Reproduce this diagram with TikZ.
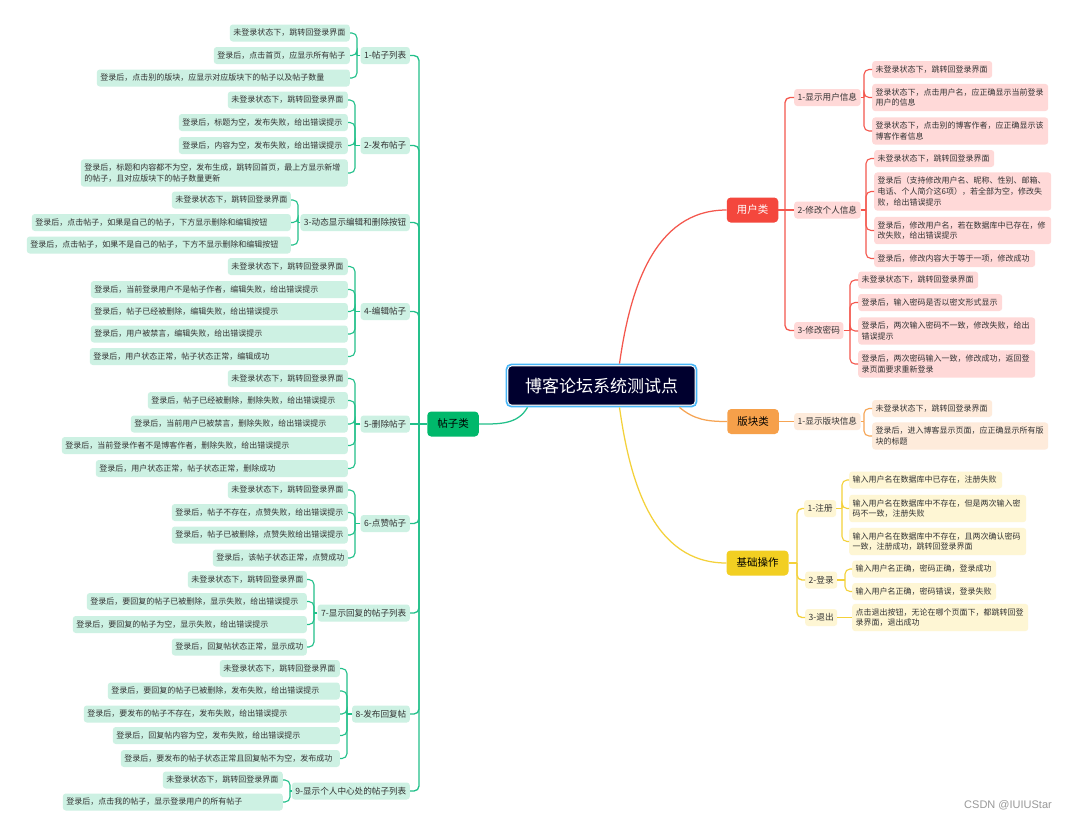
\documentclass[tikz,border=0pt]{standalone}
\usepackage{fontspec}
\setmainfont{Noto Sans CJK SC}
\newfontfamily\markfont{Liberation Sans}
\usepackage{tikz}
\usetikzlibrary{positioning}
\definecolor{ink}{HTML}{333333}
\definecolor{mint}{HTML}{22C08A}
\definecolor{mintfill}{HTML}{CDF1E3}
\definecolor{grass}{HTML}{00B86B}
\definecolor{rose}{HTML}{F4574D}
\definecolor{rosefill}{HTML}{FFD9D8}
\definecolor{tomato}{HTML}{F4473D}
\definecolor{amber}{HTML}{F6A453}
\definecolor{amberfill}{HTML}{FEEBDB}
\definecolor{apricot}{HTML}{F6A04A}
\definecolor{lemon}{HTML}{F4D13A}
\definecolor{lemonfill}{HTML}{FEF6D4}
\definecolor{mustard}{HTML}{F2CF22}
\definecolor{navy}{HTML}{00002E}
\definecolor{sky}{HTML}{48B6F7}

\begin{document}
\begin{tikzpicture}[x=1pt,y=1pt,
 leaf/.style={rectangle,rounded corners=3pt,inner xsep=3.5pt,inner ysep=4.5pt,minimum height=17pt,align=left,text=ink,font=\fontsize{8}{10.7}\selectfont},
 sub/.style={rectangle,rounded corners=3pt,inner xsep=3.5pt,inner ysep=3pt,minimum height=17pt,text=ink,font=\fontsize{8.6}{10}\selectfont},
 topic/.style={rectangle,rounded corners=4pt,inner xsep=10pt,minimum height=25pt,font=\fontsize{10.5}{12}\selectfont},
 greenleaf/.style={leaf,fill=mintfill,anchor=east}, greensub/.style={sub,fill=mintfill,anchor=east},
 redleaf/.style={leaf,fill=rosefill,anchor=west}, redsub/.style={sub,fill=rosefill,anchor=west},
 orangeleaf/.style={leaf,fill=amberfill,anchor=west}, orangesub/.style={sub,fill=amberfill,anchor=west},
 yellowleaf/.style={leaf,fill=lemonfill,anchor=west}, yellowsub/.style={sub,fill=lemonfill,anchor=west},
 greenline/.style={draw=mint,line width=1.1pt,rounded corners=5pt},
 redline/.style={draw=rose,line width=1.1pt,rounded corners=5pt},
 orangeline/.style={draw=amber,line width=1.1pt,rounded corners=5pt},
 yellowline/.style={draw=lemon,line width=1.1pt,rounded corners=5pt},
 trunk/.style={line width=1.25pt}
]
\path[use as bounding box,fill=white] (0,0) rectangle (1075,-820);

\node[rectangle,rounded corners=3.5pt,fill=navy,draw=white,line width=0.8pt,minimum width=187pt,minimum height=39pt,text=white,font=\fontsize{17}{20}\selectfont] (cen) at (601.5,-385.5) {博客论坛系统测试点};
\draw[sky,line width=1.6pt,rounded corners=5pt] ([shift={(-1.2,1.2)}]cen.north west) rectangle ([shift={(1.2,-1.2)}]cen.south east);
\node[topic,fill=grass] (tz) at (453,-424) {帖子类};
\node[topic,fill=tomato,text=white] (yh) at (752.5,-210) {用户类};
\node[topic,fill=apricot] (bk) at (753,-421.5) {版块类};
\node[topic,fill=mustard] (jc) at (757.5,-563) {基础操作};

\node[greensub] (t1) at (410,-55.5) {1-帖子列表};
\node[greensub] (t2) at (410,-145.5) {2-发布帖子};
\node[greensub] (t3) at (410,-222.5) {3-动态显示编辑和删除按钮};
\node[greensub] (t4) at (410,-311.5) {4-编辑帖子};
\node[greensub] (t5) at (410,-424) {5-删除帖子};
\node[greensub] (t6) at (410,-523.5) {6-点赞帖子};
\node[greensub] (t7) at (410,-613) {7-显示回复的帖子列表};
\node[greensub] (t8) at (410,-714) {8-发布回复帖};
\node[greensub] (t9) at (410,-791) {9-显示个人中心处的帖子列表};

\node[greenleaf,text width=113pt] (t1a) at (350,-33) {未登录状态下，跳转回登录界面};
\node[greenleaf,text width=129pt] (t1b) at (350,-55.5) {登录后，点击首页，应显示所有帖子};
\node[greenleaf,text width=246pt] (t1c) at (350,-78) {登录后，点击别的版块，应显示对应版块下的帖子以及帖子数量};
\node[greenleaf,text width=113pt] (t2a) at (348,-100) {未登录状态下，跳转回登录界面};
\node[greenleaf,text width=162pt] (t2b) at (348,-122.5) {登录后，标题为空，发布失败，给出错误提示};
\node[greenleaf,text width=162pt] (t2c) at (348,-145.5) {登录后，内容为空，发布失败，给出错误提示};
\node[greenleaf,text width=260pt] (t2d) at (348,-173) {登录后，标题和内容都不为空，发布生成，跳转回首页，最上方显示新增\\的帖子，且对应版块下的帖子数量更新};
\node[greenleaf,text width=112pt] (t3a) at (291,-200) {未登录状态下，跳转回登录界面};
\node[greenleaf,text width=252pt] (t3b) at (291,-222.5) {登录后，点击帖子，如果是自己的帖子，下方显示删除和编辑按钮};
\node[greenleaf,text width=257pt] (t3c) at (291,-245) {登录后，点击帖子，如果不是自己的帖子，下方不显示删除和编辑按钮};
\node[greenleaf,text width=113pt] (t4a) at (348,-266.5) {未登录状态下，跳转回登录界面};
\node[greenleaf,text width=250pt] (t4b) at (348,-289.5) {登录后，当前登录用户不是帖子作者，编辑失败，给出错误提示};
\node[greenleaf,text width=250pt] (t4c) at (348,-311.5) {登录后，帖子已经被删除，编辑失败，给出错误提示};
\node[greenleaf,text width=250pt] (t4d) at (348,-334) {登录后，用户被禁言，编辑失败，给出错误提示};
\node[greenleaf,text width=251pt] (t4e) at (348,-356.5) {登录后，用户状态正常，帖子状态正常，编辑成功};
\node[greenleaf,text width=113pt] (t5a) at (348,-378.5) {未登录状态下，跳转回登录界面};
\node[greenleaf,text width=193pt] (t5b) at (348,-400.5) {登录后，帖子已经被删除，删除失败，给出错误提示};
\node[greenleaf,text width=210pt] (t5c) at (348,-424) {登录后，当前用户已被禁言，删除失败，给出错误提示};
\node[greenleaf,text width=279pt] (t5d) at (348,-445.5) {登录后，当前登录作者不是博客作者，删除失败，给出错误提示};
\node[greenleaf,text width=245pt] (t5e) at (348,-468.5) {登录后，用户状态正常，帖子状态正常，删除成功};
\node[greenleaf,text width=113pt] (t6a) at (348,-490) {未登录状态下，跳转回登录界面};
\node[greenleaf,text width=169pt] (t6b) at (348,-512.5) {登录后，帖子不存在，点赞失败，给出错误提示};
\node[greenleaf,text width=169pt] (t6c) at (348,-535) {登录后，帖子已被删除，点赞失败给出错误提示};
\node[greenleaf,text width=128pt] (t6d) at (348,-558) {登录后，该帖子状态正常，点赞成功};
\node[greenleaf,text width=112pt] (t7a) at (307,-579.5) {未登录状态下，跳转回登录界面};
\node[greenleaf,text width=213pt] (t7b) at (307,-601.5) {登录后，要回复的帖子已被删除，显示失败，给出错误提示};
\node[greenleaf,text width=227pt] (t7c) at (307,-624.5) {登录后，要回复的帖子为空，显示失败，给出错误提示};
\node[greenleaf,text width=128pt] (t7d) at (307,-647) {登录后，回复帖状态正常，显示成功};
\node[greenleaf,text width=113pt] (t8a) at (340,-668.5) {未登录状态下，跳转回登录界面};
\node[greenleaf,text width=225pt] (t8b) at (340,-691) {登录后，要回复的帖子已被删除，发布失败，给出错误提示};
\node[greenleaf,text width=249pt] (t8c) at (340,-714) {登录后，要发布的帖子不存在，发布失败，给出错误提示};
\node[greenleaf,text width=220pt] (t8d) at (340,-735.5) {登录后，回复帖内容为空，发布失败，给出错误提示};
\node[greenleaf,text width=212pt] (t8e) at (340,-758.5) {登录后，要发布的帖子状态正常且回复帖不为空，发布成功};
\node[greenleaf,text width=113pt] (t9a) at (283,-780) {未登录状态下，跳转回登录界面};
\node[greenleaf,text width=213pt] (t9b) at (283,-802) {登录后，点击我的帖子，显示登录用户的所有帖子};

\node[redsub] (y1) at (794,-97.5) {1-显示用户信息};
\node[redsub] (y2) at (794,-210) {2-修改个人信息};
\node[redsub] (y3) at (794,-330.5) {3-修改密码};
\node[redleaf,text width=113pt] (y1a) at (872,-69.5) {未登录状态下，跳转回登录界面};
\node[redleaf,text width=169pt] (y1b) at (872,-97.5) {登录状态下，点击用户名，应正确显示当前登录\\用户的信息};
\node[redleaf,text width=169pt] (y1c) at (872,-131) {登录状态下，点击别的博客作者，应正确显示该\\博客作者信息};
\node[redleaf,text width=113pt] (y2a) at (874,-158.5) {未登录状态下，跳转回登录界面};
\node[redleaf,text width=170pt] (y2b) at (874,-191.5) {登录后（支持修改用户名、昵称、性别、邮箱、\\电话、个人简介这6项），若全部为空，修改失\\败，给出错误提示};
\node[redleaf,text width=170pt] (y2c) at (874,-230.5) {登录后，修改用户名，若在数据库中已存在，修\\改失败，给出错误提示};
\node[redleaf,text width=154pt] (y2d) at (874,-258.5) {登录后，修改内容大于等于一项，修改成功};
\node[redleaf,text width=113pt] (y3a) at (858,-280) {未登录状态下，跳转回登录界面};
\node[redleaf,text width=137pt] (y3b) at (858,-302.5) {登录后，输入密码是否以密文形式显示};
\node[redleaf,text width=170pt] (y3c) at (858,-331) {登录后，两次输入密码不一致，修改失败，给出\\错误提示};
\node[redleaf,text width=170pt] (y3d) at (858,-364) {登录后，两次密码输入一致，修改成功，返回登\\录页面要求重新登录};

\node[orangesub] (b1) at (794,-421.5) {1-显示版块信息};
\node[orangeleaf,text width=113pt] (b1a) at (872,-408.5) {未登录状态下，跳转回登录界面};
\node[orangeleaf,text width=169pt] (b1b) at (872,-436) {登录后，进入博客显示页面，应正确显示所有版\\块的标题};

\node[yellowsub] (j1) at (804,-508.5) {1-注册};
\node[yellowsub] (j2) at (805,-580) {2-登录};
\node[yellowsub] (j3) at (805,-617.5) {3-退出};
\node[yellowleaf,text width=146pt] (j1a) at (849,-480) {输入用户名在数据库中已存在，注册失败};
\node[yellowleaf,text width=170pt] (j1b) at (849,-508.5) {输入用户名在数据库中不存在，但是两次输入密\\码不一致，注册失败};
\node[yellowleaf,text width=170pt] (j1c) at (849,-541.5) {输入用户名在数据库中不存在，且两次确认密码\\一致，注册成功，跳转回登录界面};
\node[yellowleaf,text width=137pt] (j2a) at (852,-569) {输入用户名正确，密码正确，登录成功};
\node[yellowleaf,text width=137pt] (j2b) at (852,-591.5) {输入用户名正确，密码错误，登录失败};
\node[yellowleaf,text width=169pt] (j3a) at (852,-617.5) {点击退出按钮，无论在哪个页面下，都跳转回登\\录界面，退出成功};

\node[text=black!40,font=\markfont\fontsize{11}{13}\selectfont] (mark) at (1008,-805) {CSDN @IUIUStar};

\coordinate (tzj) at (419,-424); \coordinate (yhj) at (785,-210); \coordinate (jcj) at (797,-563);
\coordinate (t1j) at (357,-55.5); \coordinate (t2j) at (355,-145.5); \coordinate (t3j) at (298,-222.5);
\coordinate (t4j) at (355,-311.5); \coordinate (t5j) at (355,-424); \coordinate (t6j) at (355,-523.5);
\coordinate (t7j) at (314,-613); \coordinate (t8j) at (347,-714); \coordinate (t9j) at (290,-791);
\coordinate (y1j) at (864,-97.5); \coordinate (y2j) at (866,-210); \coordinate (y3j) at (850,-330.5);
\coordinate (b1j) at (864,-421.5); \coordinate (j1j) at (842,-508.5); \coordinate (j2j) at (845,-580);

\draw[trunk,draw=rose] ([xshift=18pt,yshift=2pt]cen.north) to[out=82,in=180] (yh.west);
\draw[trunk,draw=lemon] ([xshift=18pt,yshift=-2pt]cen.south) to[out=-82,in=180] (jc.west);
\draw[trunk,draw=amber] ([xshift=78pt,yshift=-2pt]cen.south) to[out=-40,in=180] (bk.west);
\draw[trunk,draw=mint] ([xshift=-74pt,yshift=-2pt]cen.south) to[out=-120,in=0] (tz.east);

\draw[greenline,line width=1.3pt] (tz.west)--(t5.east);
\draw[greenline,line width=1.3pt] (tzj) |- (t1.east); \draw[greenline,line width=1.3pt] (tzj) |- (t2.east); \draw[greenline,line width=1.3pt] (tzj) |- (t3.east);
\draw[greenline,line width=1.3pt] (tzj) |- (t4.east); \draw[greenline,line width=1.3pt] (tzj) |- (t6.east); \draw[greenline,line width=1.3pt] (tzj) |- (t7.east);
\draw[greenline,line width=1.3pt] (tzj) |- (t8.east); \draw[greenline,line width=1.3pt] (tzj) |- (t9.east);
\draw[greenline] (t1.west)--(t1j); \draw[greenline] (t1j) |- (t1a.east); \draw[greenline] (t1j) |- (t1b.east); \draw[greenline] (t1j) |- (t1c.east);
\draw[greenline] (t2.west)--(t2j); \draw[greenline] (t2j) |- (t2a.east); \draw[greenline] (t2j) |- (t2b.east); \draw[greenline] (t2j) |- (t2c.east); \draw[greenline] (t2j) |- (t2d.east);
\draw[greenline] (t3.west)--(t3j); \draw[greenline] (t3j) |- (t3a.east); \draw[greenline] (t3j) |- (t3b.east); \draw[greenline] (t3j) |- (t3c.east);
\draw[greenline] (t4.west)--(t4j); \draw[greenline] (t4j) |- (t4a.east); \draw[greenline] (t4j) |- (t4b.east); \draw[greenline] (t4j) |- (t4c.east); \draw[greenline] (t4j) |- (t4d.east); \draw[greenline] (t4j) |- (t4e.east);
\draw[greenline] (t5.west)--(t5j); \draw[greenline] (t5j) |- (t5a.east); \draw[greenline] (t5j) |- (t5b.east); \draw[greenline] (t5j) |- (t5c.east); \draw[greenline] (t5j) |- (t5d.east); \draw[greenline] (t5j) |- (t5e.east);
\draw[greenline] (t6.west)--(t6j); \draw[greenline] (t6j) |- (t6a.east); \draw[greenline] (t6j) |- (t6b.east); \draw[greenline] (t6j) |- (t6c.east); \draw[greenline] (t6j) |- (t6d.east);
\draw[greenline] (t7.west)--(t7j); \draw[greenline] (t7j) |- (t7a.east); \draw[greenline] (t7j) |- (t7b.east); \draw[greenline] (t7j) |- (t7c.east); \draw[greenline] (t7j) |- (t7d.east);
\draw[greenline] (t8.west)--(t8j); \draw[greenline] (t8j) |- (t8a.east); \draw[greenline] (t8j) |- (t8b.east); \draw[greenline] (t8j) |- (t8c.east); \draw[greenline] (t8j) |- (t8d.east); \draw[greenline] (t8j) |- (t8e.east);
\draw[greenline] (t9.west)--(t9j); \draw[greenline] (t9j) |- (t9a.east); \draw[greenline] (t9j) |- (t9b.east);

\draw[redline,line width=1.3pt] (yh.east)--(y2.west); \draw[redline,line width=1.3pt] (yhj) |- (y1.west); \draw[redline,line width=1.3pt] (yhj) |- (y3.west);
\draw[redline] (y1.east)--(y1j); \draw[redline] (y1j) |- (y1a.west); \draw[redline] (y1j) |- (y1b.west); \draw[redline] (y1j) |- (y1c.west);
\draw[redline] (y2.east)--(y2j); \draw[redline] (y2j) |- (y2a.west); \draw[redline] (y2j) |- (y2b.west); \draw[redline] (y2j) |- (y2c.west); \draw[redline] (y2j) |- (y2d.west);
\draw[redline] (y3.east)--(y3j); \draw[redline] (y3j) |- (y3a.west); \draw[redline] (y3j) |- (y3b.west); \draw[redline] (y3j) |- (y3c.west); \draw[redline] (y3j) |- (y3d.west);

\draw[orangeline,line width=1.3pt] (bk.east)--(b1.west);
\draw[orangeline] (b1.east)--(b1j); \draw[orangeline] (b1j) |- (b1a.west); \draw[orangeline] (b1j) |- (b1b.west);

\draw[yellowline,line width=1.3pt] (jc.east)--(jcj); \draw[yellowline,line width=1.3pt] (jcj) |- (j1.west); \draw[yellowline,line width=1.3pt] (jcj) |- (j2.west); \draw[yellowline,line width=1.3pt] (jcj) |- (j3.west);
\draw[yellowline] (j1.east)--(j1j); \draw[yellowline] (j1j) |- (j1a.west); \draw[yellowline] (j1j) |- (j1b.west); \draw[yellowline] (j1j) |- (j1c.west);
\draw[yellowline] (j2.east)--(j2j); \draw[yellowline] (j2j) |- (j2a.west); \draw[yellowline] (j2j) |- (j2b.west);
\draw[yellowline] (j3.east)--(j3a.west);
\end{tikzpicture}
\end{document}
